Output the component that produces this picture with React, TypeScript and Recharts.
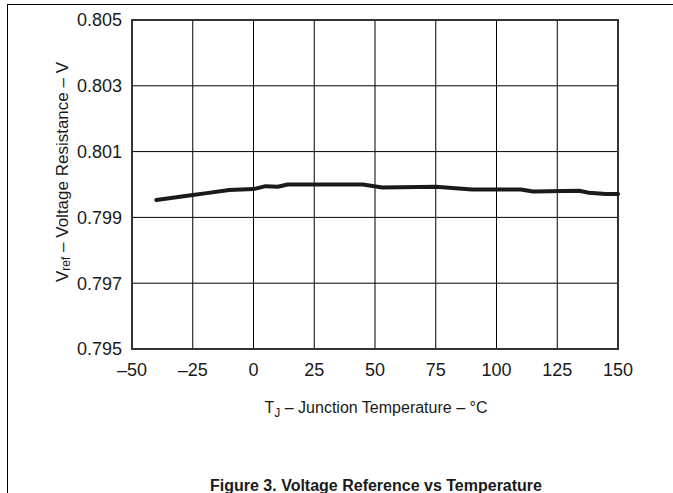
import React from 'react';
import { LineChart, Line, XAxis, YAxis, CartesianGrid, ReferenceArea, Label } from 'recharts';

// junction temperature (°C) and the Vref
const temps = [-40, -25, -20, -10, 0, 5, 10, 14, 45, 53, 75, 90, 110, 115, 134, 138, 145, 150];
const vref = [
  0.79953, 0.79968, 0.79973, 0.79983, 0.79986, 0.79995, 0.79993, 0.8, 0.8, 0.79991,
  0.79993, 0.79985, 0.79985, 0.79979, 0.79981, 0.79975, 0.79971, 0.79971,
];
const xTicks = [-50, -25, 0, 25, 50, 75, 100, 125, 150];
const yTicks = [0.795, 0.797, 0.799, 0.801, 0.803, 0.805];

const data = temps.map((t, i) => ({ t, v: vref[i] }));

const FONT = 'Arial, "Liberation Sans", Helvetica, sans-serif';
const INK = '#1a1a1a';

const YTitle = () => (
  <text
    x={62}
    y={172}
    transform="rotate(-90, 62, 172)"
    textAnchor="middle"
    dominantBaseline="central"
    fontFamily={FONT}
    fontSize={17}
    fill={INK}
  >
    V
    <tspan fontSize={12} dy={4}>ref</tspan>
    <tspan dy={-4}> – Voltage Resistance – V</tspan>
  </text>
);

const XTitle = () => (
  <text x={376} y={413} textAnchor="middle" fontFamily={FONT} fontSize={16} fill={INK}>
    T
    <tspan fontSize={12} dy={4}>J</tspan>
    <tspan dy={-4}> – Junction Temperature – °C</tspan>
  </text>
);

const fmtX = (v: number) => String(v).replace('-', '–');
const fmtY = (v: number) => v.toFixed(3);

export default function App() {
  return (
    <div
      style={{
        position: 'absolute',
        left: 0,
        top: 0,
        width: 673,
        height: 493,
        background: '#fff',
        overflow: 'hidden',
        fontFamily: FONT,
      }}
    >
      {/* page frame lines */}
      <div style={{ position: 'absolute', left: 7, top: 4, width: 666, height: 489, borderTop: '1px solid #000', borderLeft: '1px solid #000' }} />
      <LineChart
        width={673}
        height={493}
        data={data}
        margin={{ top: 20, right: 55, bottom: 114, left: 72 }}
        style={{ position: 'absolute', left: 0, top: 0 }}
      >
        <CartesianGrid stroke="#000" strokeWidth={1} />
        <XAxis
          dataKey="t"
          type="number"
          domain={[-50, 150]}
          ticks={xTicks}
          tickFormatter={fmtX}
          axisLine={false}
          tickLine={false}
          tickSize={6}
          tickMargin={8}
          height={30}
          tick={{ fontSize: 18, fill: INK, fontFamily: FONT }}
          interval={0}
        >
          <Label content={<XTitle />} />
        </XAxis>
        <YAxis
          type="number"
          domain={[0.795, 0.805]}
          ticks={yTicks}
          tickFormatter={fmtY}
          axisLine={false}
          tickLine={false}
          tickSize={6}
          tickMargin={4}
          width={60}
          tick={{ fontSize: 18, fill: INK, fontFamily: FONT }}
          interval={0}
          allowDataOverflow
        >
          <Label content={<YTitle />} />
        </YAxis>
        <ReferenceArea x1={-50} x2={150} y1={0.795} y2={0.805} fill="none" stroke="#333" strokeWidth={2} />
        <Line
          type="linear"
          dataKey="v"
          stroke={INK}
          strokeWidth={4}
          dot={false}
          strokeLinecap="round"
          strokeLinejoin="round"
          isAnimationActive={false}
        />
      </LineChart>
      <div
        style={{
          position: 'absolute',
          left: 0,
          width: 752,
          top: 476,
          textAlign: 'center',
          fontWeight: 'bold',
          fontSize: 16,
          color: INK,
          lineHeight: '20px',
        }}
      >
        Figure 3. Voltage Reference vs Temperature
      </div>
    </div>
  );
}
